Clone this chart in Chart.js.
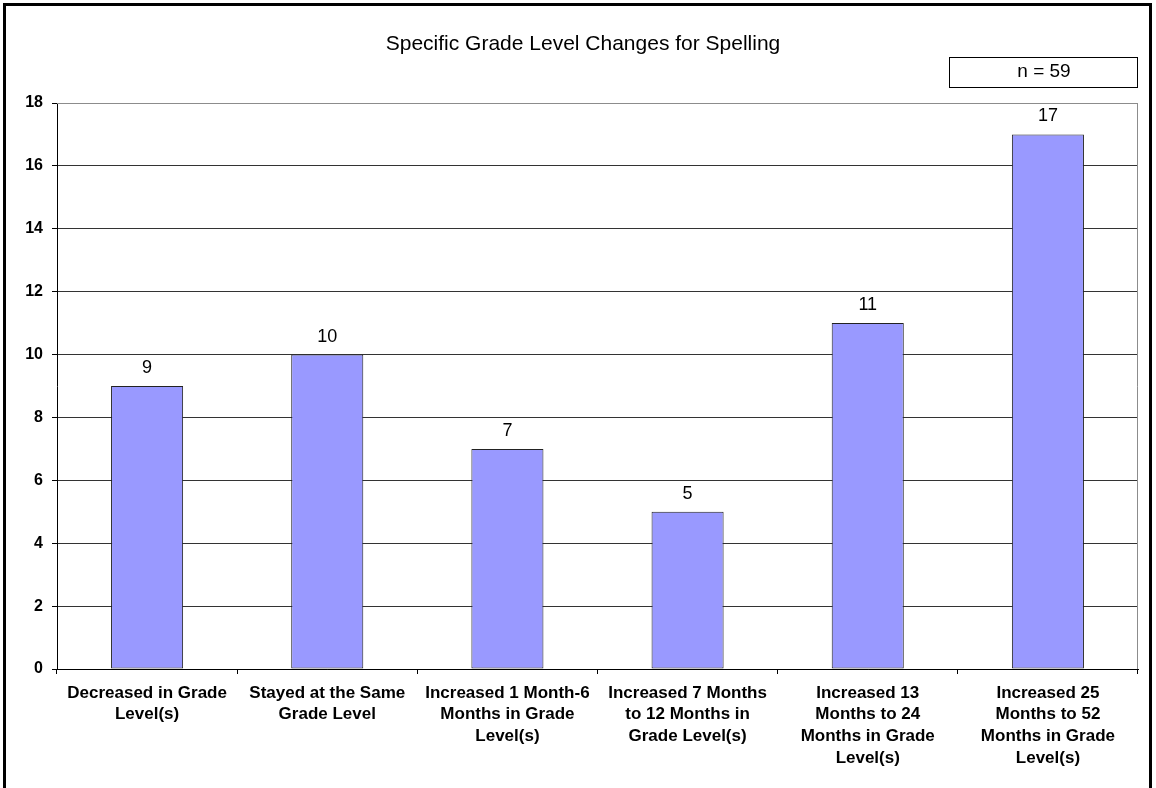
<!DOCTYPE html>
<html>
<head>
<meta charset="utf-8">
<script src="https://cdn.jsdelivr.net/npm/chart.js@4.4.1/dist/chart.umd.min.js"></script>
<style>
    html, body { margin: 0; padding: 0; background: #fff; }
    #contenedor { width: 1156px; height: 788px; position: relative; }
</style>
</head>
<body>
<div id="contenedor"><canvas id="canvaOrtografia"></canvas></div>
<script>
// categorias del eje x, ya partidas en lineas
const categorias = [
    ["Decreased in Grade", "Level(s)"],
    ["Stayed at the Same", "Grade Level"],
    ["Increased 1 Month-6", "Months in Grade", "Level(s)"],
    ["Increased 7 Months", "to 12 Months in", "Grade Level(s)"],
    ["Increased 13", "Months to 24", "Months in Grade", "Level(s)"],
    ["Increased 25", "Months to 52", "Months in Grade", "Level(s)"]
];
const cantidades = [9, 10, 7, 5, 11, 17];
const ticksY = [0, 2, 4, 6, 8, 10, 12, 14, 16, 18];
const titulo = "Specific Grade Level Changes for Spelling";
const textoMuestra = "n = 59";

const fuente = "'Liberation Sans', Arial, sans-serif";

// titulo, recuadro de n, marco exterior y etiquetas de valores
const pluginDecoracion = {
    id: 'decoracion',
    afterDraw(chart) {
        const ctx = chart.ctx;
        const area = chart.chartArea;
        ctx.save();

        // borde gris del area de trazado (arriba y derecha)
        ctx.strokeStyle = '#8c8c8c';
        ctx.lineWidth = 1;
        ctx.beginPath();
        ctx.moveTo(area.left, area.top + 0.5);
        ctx.lineTo(area.right - 0.5, area.top + 0.5);
        ctx.lineTo(area.right - 0.5, area.bottom);
        ctx.stroke();

        // marco exterior
        ctx.strokeStyle = '#000';
        ctx.lineWidth = 3;
        ctx.strokeRect(4.5, 4.5, 1146, 820);

        // titulo
        ctx.fillStyle = '#000';
        ctx.font = "21px " + fuente;
        ctx.textAlign = 'center';
        ctx.textBaseline = 'middle';
        ctx.fillText(titulo, 583, 44);

        // recuadro n = 59
        ctx.lineWidth = 1;
        ctx.strokeStyle = '#000';
        ctx.strokeRect(949.5, 57.5, 188, 30);
        ctx.font = "19px " + fuente;
        ctx.fillText(textoMuestra, 1044, 72);

        // valores sobre cada barra
        const meta = chart.getDatasetMeta(0);
        ctx.font = "18px " + fuente;
        ctx.textBaseline = 'alphabetic';
        meta.data.forEach((barra, i) => {
            ctx.fillText(String(cantidades[i]), barra.x, barra.y - 13);
        });
        ctx.restore();
    }
};

const graficoOrtografia = new Chart(document.getElementById('canvaOrtografia'), {
    type: 'bar',
    data: {
        labels: categorias,
        datasets: [{
            label: "Spelling",
            data: cantidades,
            backgroundColor: '#9999ff',
            borderColor: '#222',
            borderWidth: 1,
            borderSkipped: false,
            barPercentage: 0.4,
            categoryPercentage: 1
        }]
    },
    options: {
        responsive: true,
        maintainAspectRatio: false,
        animation: false,
        layout: {
            padding: { top: 103, right: 18, left: 0, bottom: 0 }
        },
        plugins: {
            legend: { display: false },
            tooltip: { enabled: false }
        },
        scales: {
            x: {
                afterFit(escala) { escala.height = 119; },
                grid: {
                    drawOnChartArea: false,
                    drawTicks: true,
                    tickLength: 5,
                    color: '#000'
                },
                border: { color: '#000', width: 1 },
                ticks: {
                    autoSkip: false,
                    maxRotation: 0,
                    minRotation: 0,
                    padding: 8,
                    color: '#000',
                    font: { family: fuente, size: 17, weight: 'bold', lineHeight: 1.28 }
                }
            },
            y: {
                min: 0,
                max: 18,
                afterFit(escala) { escala.width = 57; },
                afterBuildTicks(escala) {
                    escala.ticks = ticksY.map(v => ({ value: v }));
                },
                grid: {
                    color: ctx => ctx.tick && ctx.tick.value === 18 ? '#8c8c8c' : '#333',
                    tickColor: '#000',
                    tickLength: 5,
                    lineWidth: 1
                },
                border: { color: '#000', width: 1 },
                ticks: {
                    stepSize: 2,
                    padding: 9,
                    color: '#000',
                    font: { family: fuente, size: 16, weight: 'bold' }
                }
            }
        }
    },
    plugins: [pluginDecoracion]
});
</script>
</body>
</html>
